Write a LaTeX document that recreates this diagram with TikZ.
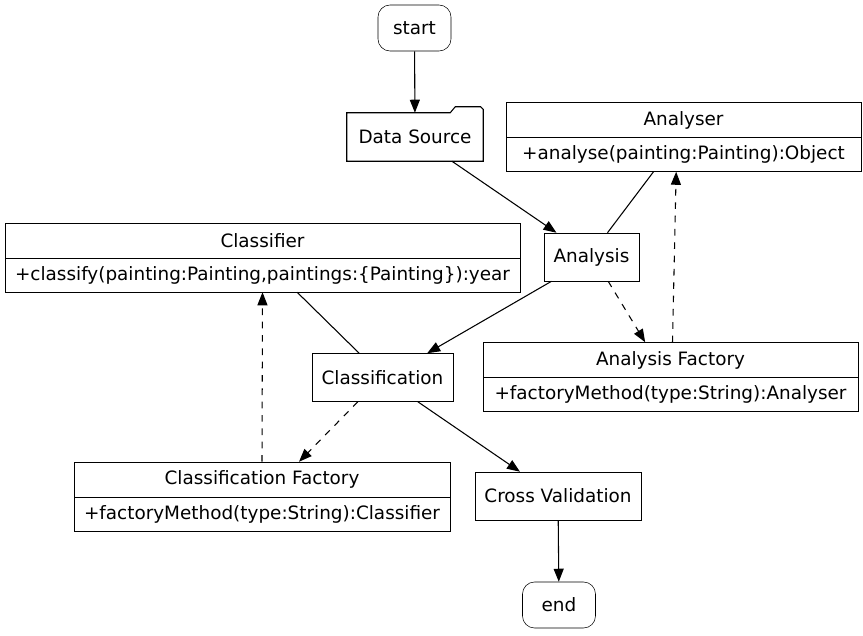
\documentclass[tikz,border=0pt]{standalone}
\usepackage{fontspec}
\setmainfont{DejaVu Sans}
\usetikzlibrary{arrows.meta}

\begin{document}
\begin{tikzpicture}[x=0.75pt,y=-0.75pt,
    every node/.style={font=\fontsize{13.8}{16}\selectfont,inner sep=0pt},
    term/.style={draw,rounded corners=9pt,minimum width=54.75pt,minimum height=34.5pt},
    box/.style={draw,minimum height=36pt},
    hd/.style={draw,minimum height=26.25pt},
    bd/.style={draw,minimum height=25.5pt},
    lnk/.style={line width=0.8pt},
    arr/.style={lnk,-{Triangle[length=9.75pt,width=7.5pt]}},
    dep/.style={arr,dash pattern=on 5pt off 5pt}]

    \useasboundingbox (0,0) rectangle (863,635);

    \node[term] (start) at (414.5,28) {start};
    \node[box,draw=none,minimum width=102pt] (ds) at (415,137) {Data Source};
    \draw[lnk] (ds.south west) -- (ds.north west) -- ([xshift=-24.75pt]ds.north east)
      -- ([xshift=-21pt,yshift=4.5pt]ds.north east) -- ([xshift=-2pt,yshift=4.5pt]ds.north east)
      -- ([yshift=2.5pt]ds.north east) -- (ds.south east) -- cycle;

    % classes
    \node[hd,minimum width=266.25pt] (anrh) at (683.5,120) {Analyser};
    \node[bd,minimum width=266.25pt] (anrb) at (683.5,154.5) {+analyse(painting:Painting):Object};
    \node[hd,minimum width=386.25pt] (clrh) at (262.5,240.5) {Classifier};
    \node[bd,minimum width=386.25pt] (clrb) at (262.5,275) {+classify(painting:Painting,paintings:\{Painting\}):year};
    \node[hd,minimum width=281.25pt] (afh) at (670.5,360) {Analysis Factory};
    \node[bd,minimum width=281.25pt] (afb) at (670.5,394.5) {+factoryMethod(type:String):Analyser};
    \node[hd,minimum width=282pt] (cfh) at (262,479.5) {Classification Factory};
    \node[bd,minimum width=282pt] (cfb) at (262,514) {+factoryMethod(type:String):Classifier};

    \node[box,minimum width=71.25pt] (ana) at (591.5,257) {Analysis};
    \node[box,minimum width=105.75pt] (cls) at (382.5,377.5) {Classification};
    \node[box,minimum width=124.5pt] (cv) at (558,496) {Cross Validation};
    \node[term] (end) at (559,605) {end};

    \draw[arr] (start) -- (ds);
    \draw[arr] ([xshift=27.75pt]ds.south) -- ([xshift=-26.25pt]ana.north);
    \draw[lnk] ([xshift=-22.5pt]anrb.south) -- ([xshift=12pt]ana.north);
    \draw[dep] ([xshift=12.5pt]ana.south) -- ([xshift=-19pt]afh.north);
    \draw[dep] ([xshift=1.5pt]afh.north) -- ([xshift=-5.5pt]anrb.south);
    \draw[arr] ([xshift=-30pt]ana.south) -- ([xshift=33.5pt]cls.north);
    \draw[lnk] ([xshift=26pt]clrb.south) -- ([xshift=-17.5pt]cls.north);
    \draw[dep] ([xshift=-18.5pt]cls.south) -- ([xshift=27.75pt]cfh.north);
    \draw[dep] (cfh.north) -- (clrb.south);
    \draw[arr] ([xshift=26.5pt]cls.south) -- ([xshift=-28.5pt]cv.north);
    \draw[arr] (cv) -- (end);
\end{tikzpicture}
\end{document}
